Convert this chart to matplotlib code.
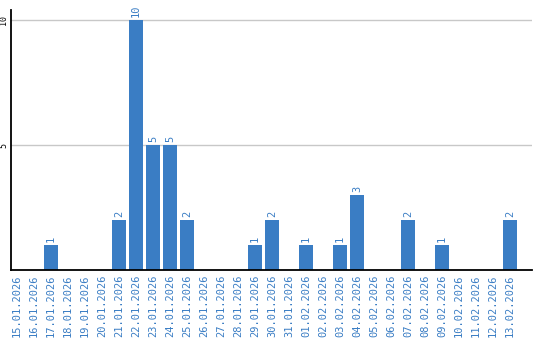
import matplotlib
matplotlib.use('Agg')
import matplotlib.pyplot as plt
import numpy as np

dates = ['15.01.2026', '16.01.2026', '17.01.2026', '18.01.2026', '19.01.2026',
         '20.01.2026', '21.01.2026', '22.01.2026', '23.01.2026', '24.01.2026',
         '25.01.2026', '26.01.2026', '27.01.2026', '28.01.2026', '29.01.2026',
         '30.01.2026', '31.01.2026', '01.02.2026', '02.02.2026', '03.02.2026',
         '04.02.2026', '05.02.2026', '06.02.2026', '07.02.2026', '08.02.2026',
         '09.02.2026', '10.02.2026', '11.02.2026', '12.02.2026', '13.02.2026']
counts = [0, 0, 1, 0, 0, 0, 2, 10, 5, 5, 2, 0, 0, 0, 1,
          2, 0, 1, 0, 1, 3, 0, 0, 2, 0, 1, 0, 0, 0, 2]
yticks = [5, 10]

blue = '#3a7dc4'
mono = 'DejaVu Sans Mono'

fig = plt.figure(figsize=(5.4, 3.4), dpi=100)
ax = fig.add_axes([11 / 540, 70 / 340, 521 / 540, 260 / 340])

x = np.arange(len(dates))
ax.bar(x, counts, width=0.82, color=blue, zorder=2)
for xi, c in zip(x, counts):
    if c:
        ax.text(xi, c + 0.12, str(c), rotation=90, ha='center', va='bottom',
                color=blue, fontsize=7.5, family=mono)

ax.set_xlim(-0.35, 30.3)
ax.set_ylim(0, 10.4)
ax.set_yticks(yticks)
ax.set_yticklabels([str(t) for t in yticks], rotation=90, va='center',
                   fontsize=6, family=mono)
ax.yaxis.grid(True, color='#c8c8c8', linewidth=1, zorder=0)
ax.set_xticks(x)
ax.set_xticklabels(dates, rotation=90, color=blue, fontsize=7.5, family=mono)
ax.tick_params(length=0, pad=3)
ax.tick_params(axis='y', pad=2)
for side in ['top', 'right']:
    ax.spines[side].set_visible(False)
for side in ['left', 'bottom']:
    ax.spines[side].set_linewidth(1.3)

fig.savefig('out.png', dpi=100)
